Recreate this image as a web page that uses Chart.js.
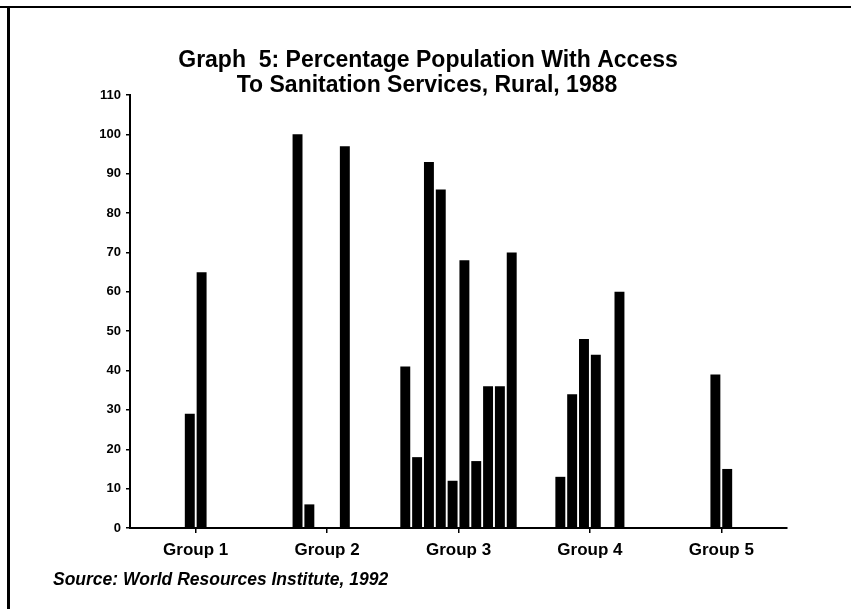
<!DOCTYPE html>
<html>
<head>
<meta charset="utf-8">
<title>Graph 5: Rural sanitation access, 1988</title>
<script src="https://cdn.jsdelivr.net/npm/chart.js@4.4.1/dist/chart.umd.min.js"></script>
<style>
  html, body { margin: 0; padding: 0; background: #fff; overflow: hidden; }
  #wrap { position: relative; width: 851px; height: 609px; }
</style>
</head>
<body>
<div id="wrap"><canvas id="myChart"></canvas></div>
<script>
// Values. Each group has 10 bar slots,
// null means that slot is empty in the original.
const groupLabels = ["Group 1", "Group 2", "Group 3", "Group 4", "Group 5"];
const group1 = [null, null, null, null, 29, 65, null, null, null, null];
const group2 = [null, null, 100, 6, null, null, 97, null, null, null];
const group3 = [41, 18, 93, 86, 12, 68, 17, 36, 36, 70];
const group4 = [null, null, 13, 34, 48, 44, null, 60, null, null];
const group5 = [null, null, null, null, 39, 15, null, null, null, null];

const titleLines = [
  "Graph  5: Percentage Population With Access",
  "To Sanitation Services, Rural, 1988",
];
const sourceText = "Source: World Resources Institute, 1992";
const yMin = 0;
const yMax = 110;
const yStep = 10;

const fontFamily = '"Liberation Sans", Arial, Helvetica, sans-serif';

// one dataset per slot, so empty slots keep their place in the group
const groups = [group1, group2, group3, group4, group5];
const datasets = group1.map((_, slot) => ({
  label: "Slot " + (slot + 1),
  data: groups.map((g) => g[slot]),
  backgroundColor: "#000",
  borderWidth: 0,
  barPercentage: 0.84,
  categoryPercentage: 0.9,
}));

// title, source line and the box edges of the scanned page
const paperText = {
  id: "paperText",
  afterDraw(chart) {
    const c = chart.ctx;
    c.save();
    c.fillStyle = "#000";
    c.fillRect(0, 6, chart.width, 2);
    c.fillRect(7, 6, 3, chart.height - 6);
    c.font = "bold 23px " + fontFamily;
    c.textAlign = "center";
    c.textBaseline = "alphabetic";
    c.fillText(titleLines[0], 428, 67);
    c.fillText(titleLines[1], 427, 92);
    c.font = "italic bold 17.5px " + fontFamily;
    c.textAlign = "left";
    c.fillText(sourceText, 53, 585);
    c.restore();
  },
};

var ctx = document.getElementById("myChart");
var myChart = new Chart(ctx, {
  type: "bar",
  data: {
    labels: groupLabels,
    datasets: datasets,
  },
  options: {
    responsive: true,
    maintainAspectRatio: false,
    animation: false,
    layout: {
      padding: { left: 0, right: 64, top: 95, bottom: 41 },
    },
    plugins: {
      legend: { display: false },
      tooltip: { enabled: false },
      title: { display: false },
    },
    scales: {
      x: {
        grid: {
          display: true,
          offset: false,
          drawOnChartArea: false,
          drawTicks: true,
          tickLength: 5,
          color: "#000",
          lineWidth: 1.5,
        },
        border: { display: true, color: "#000", width: 2 },
        ticks: {
          color: "#000",
          padding: 7,
          font: { family: fontFamily, size: 17, weight: "bold" },
        },
        afterFit(scale) {
          scale.height = 40;
        },
      },
      y: {
        min: yMin,
        max: yMax,
        grid: {
          display: true,
          drawOnChartArea: false,
          drawTicks: true,
          tickLength: 4,
          color: "#000",
          lineWidth: 1.5,
        },
        border: { display: true, color: "#000", width: 2 },
        ticks: {
          stepSize: yStep,
          color: "#000",
          padding: 5,
          font: { family: fontFamily, size: 13, weight: "bold" },
        },
        afterFit(scale) {
          scale.width = 130;
        },
      },
    },
  },
  plugins: [paperText],
});
</script>
</body>
</html>
